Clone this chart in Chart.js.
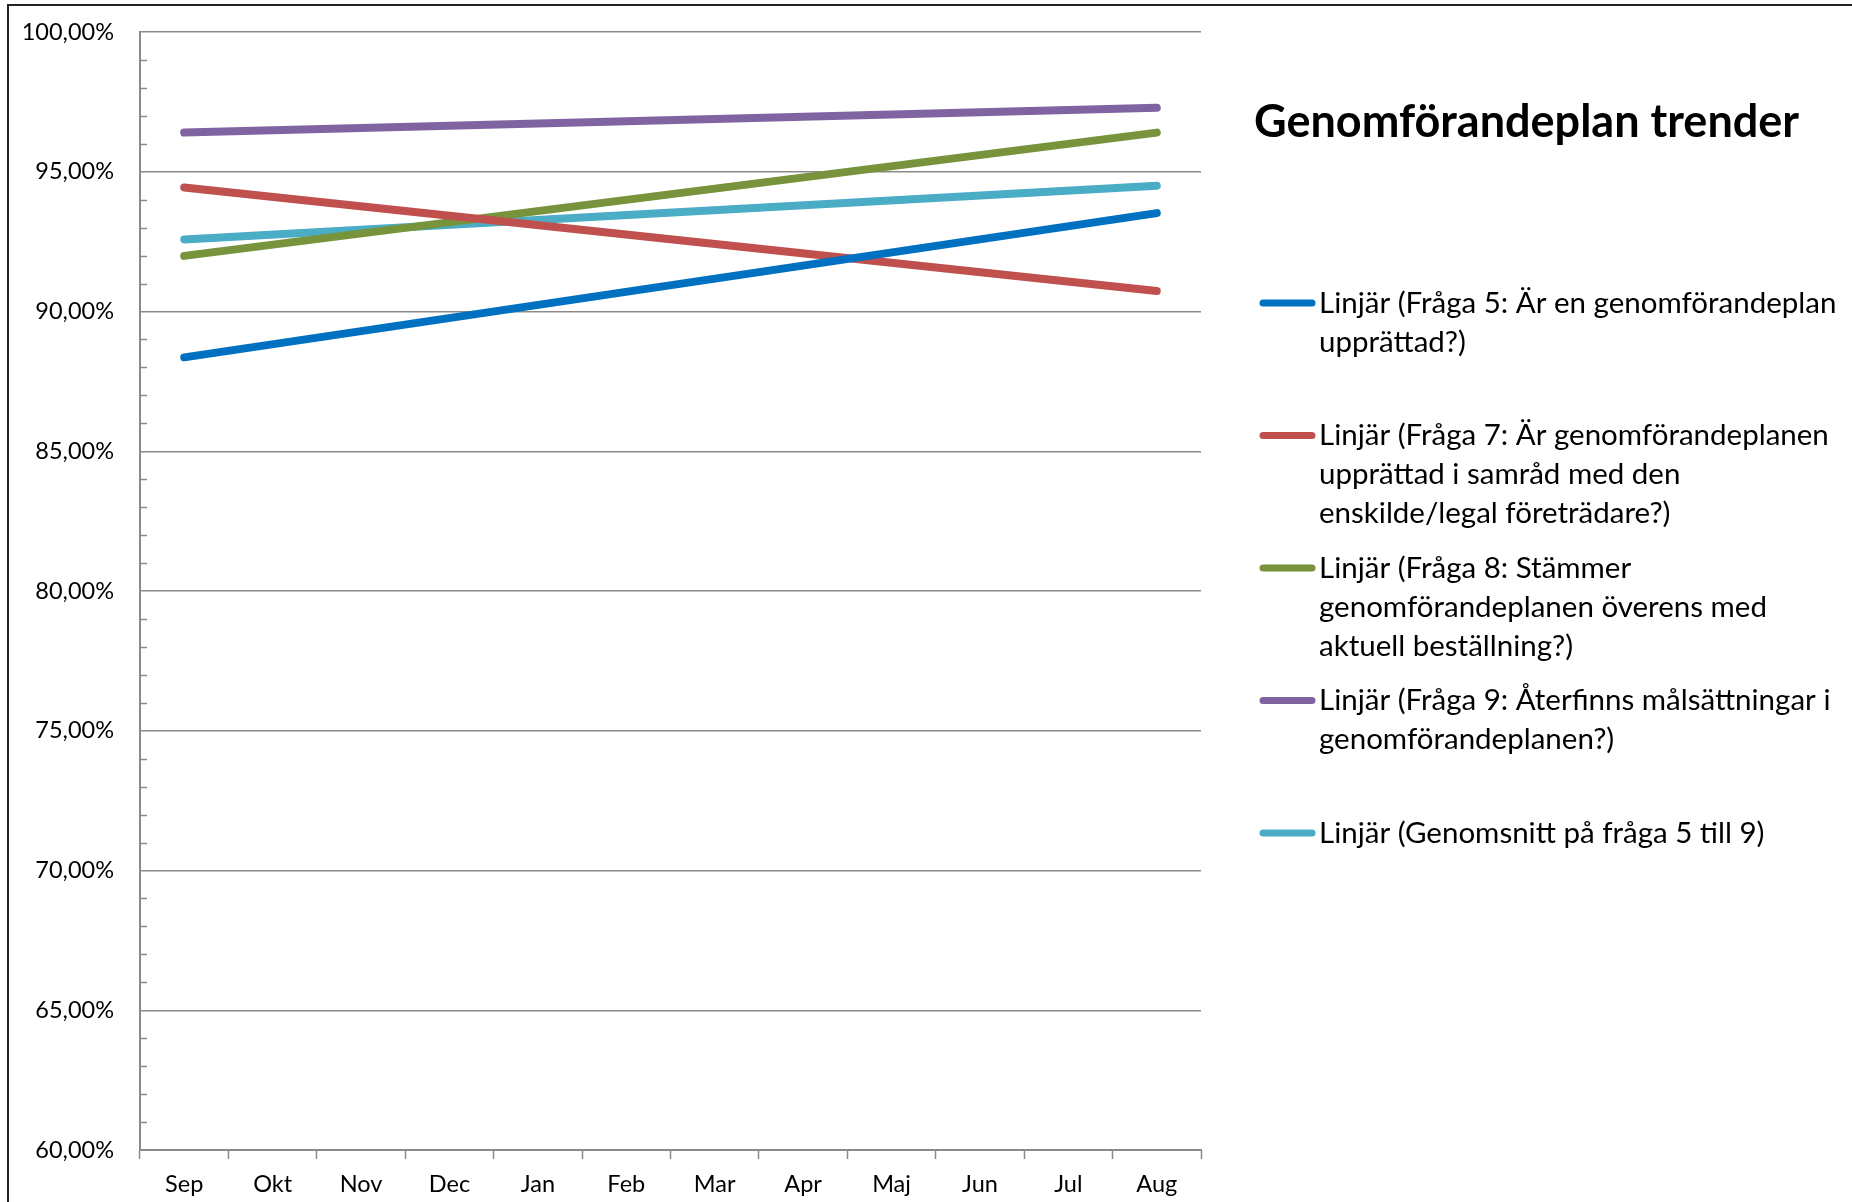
<!DOCTYPE html>
<html>
<head>
<meta charset="utf-8">
<script src="https://cdn.jsdelivr.net/npm/chart.js@4"></script>
<style>
  html, body { margin: 0; padding: 0; background: #fff; }
  #wrap { position: relative; width: 1852px; height: 1202px; overflow: hidden; }
  #frame { position: absolute; left: 7px; top: 4px; width: 1900px; height: 1300px;
           border: 2px solid #222; pointer-events: none; }
  canvas { position: absolute; left: 0; top: 0; }
</style>
</head>
<body>
<div id="wrap">
  <canvas id="trend-chart" width="1852" height="1202"></canvas>
  <div id="frame"></div>
</div>
<script>
// månader på x-axeln
const months = ['Sep', 'Okt', 'Nov', 'Dec', 'Jan', 'Feb', 'Mar', 'Apr', 'Maj', 'Jun', 'Jul', 'Aug'];

// trendlinjer: bara start (Sep) och slut (Aug) avlästa, mellan är tomt
const fraga5 = [88.36, null, null, null, null, null, null, null, null, null, null, 93.52];
const fraga7 = [94.44, null, null, null, null, null, null, null, null, null, null, 90.73];
const fraga8 = [91.99, null, null, null, null, null, null, null, null, null, null, 96.40];
const fraga9 = [96.40, null, null, null, null, null, null, null, null, null, null, 97.29];
const snitt  = [92.58, null, null, null, null, null, null, null, null, null, null, 94.50];

const yMin = 60;
const yMax = 100;
const yMajorStep = 5;

const titleText = 'Genomförandeplan trender';

const legendLines = [
    ['Linjär (Fråga 5: Är en genomförandeplan', 'upprättad?)'],
    ['Linjär (Fråga 7: Är genomförandeplanen', 'upprättad i samråd med den', 'enskilde/legal företrädare?)'],
    ['Linjär (Fråga 8: Stämmer', 'genomförandeplanen överens med', 'aktuell beställning?)'],
    ['Linjär (Fråga 9: Återfinns målsättningar i', 'genomförandeplanen?)'],
    ['Linjär (Genomsnitt på fråga 5 till 9)']
];

const seriesColors = ['#0070C0', '#C0504D', '#77933C', '#8064A2', '#4BACC6'];
const gridGray = '#8a8a8a';
const fontFamily = 'Lato, "Open Sans", sans-serif';

function makeDataset(values, idx) {
    return {
        label: legendLines[idx].join(' '),
        data: values,
        borderColor: seriesColors[idx],
        backgroundColor: seriesColors[idx],
        borderWidth: 8,
        borderCapStyle: 'round',
        pointRadius: 0,
        spanGaps: true,
        tension: 0
    };
}

// titel + legend till höger, och små stödstreck på y-axeln
const sidePanel = {
    id: 'sidePanel',
    afterDraw(chart) {
        const ctx = chart.ctx;
        const yScale = chart.scales.y;
        const area = chart.chartArea;

        // minor ticks innanför axeln
        ctx.save();
        ctx.strokeStyle = gridGray;
        ctx.lineWidth = 1.5;
        for (let v = yMin + 1; v < yMax; v++) {
            if (v % yMajorStep === 0) continue;
            const py = Math.round(yScale.getPixelForValue(v)) + 0.5;
            ctx.beginPath();
            ctx.moveTo(area.left, py);
            ctx.lineTo(area.left + 7, py);
            ctx.stroke();
        }
        ctx.restore();

        // titel
        ctx.save();
        ctx.fillStyle = '#000';
        ctx.font = 'bold 45px ' + fontFamily;
        ctx.textBaseline = 'middle';
        ctx.textAlign = 'left';
        ctx.fillText(titleText, 1254, 122);
        ctx.restore();

        // legend
        ctx.save();
        ctx.font = '29.5px ' + fontFamily;
        ctx.textBaseline = 'middle';
        ctx.fillStyle = '#000';
        const firstY = 303;
        const itemStep = 132.5;
        const lineStep = 39;
        chart.data.datasets.forEach(function(ds, i) {
            const y0 = firstY + i * itemStep;
            ctx.strokeStyle = ds.borderColor;
            ctx.lineWidth = 7;
            ctx.lineCap = 'round';
            ctx.beginPath();
            ctx.moveTo(1263, y0);
            ctx.lineTo(1312, y0);
            ctx.stroke();
            legendLines[i].forEach(function(txt, k) {
                ctx.fillText(txt, 1319, y0 + k * lineStep);
            });
        });
        ctx.restore();
    }
};

const ctx = document.getElementById('trend-chart').getContext('2d');
new Chart(ctx, {
    type: 'line',
    data: {
        labels: months,
        datasets: [
            makeDataset(fraga5, 0),
            makeDataset(fraga7, 1),
            makeDataset(fraga8, 2),
            makeDataset(fraga9, 3),
            makeDataset(snitt, 4)
        ]
    },
    options: {
        responsive: false,
        animation: false,
        layout: {
            autoPadding: false,
            padding: { top: 32, right: 651, bottom: 0, left: 0 }
        },
        plugins: {
            legend: { display: false },
            title: { display: false },
            tooltip: { enabled: false }
        },
        scales: {
            x: {
                offset: true,
                afterFit: function(scale) { scale.height = 52; },
                grid: {
                    offset: true,
                    drawOnChartArea: false,
                    drawTicks: true,
                    tickLength: 9,
                    tickColor: gridGray,
                    tickWidth: 1.5
                },
                border: { color: gridGray, width: 2 },
                ticks: {
                    color: '#000',
                    font: { family: fontFamily, size: 23.5 },
                    padding: 11,
                    maxRotation: 0,
                    autoSkip: false
                }
            },
            y: {
                min: yMin,
                max: yMax,
                afterFit: function(scale) {
                    scale.width = 140;
                    scale.paddingTop = 0;
                    scale.paddingBottom = 0;
                },
                grid: {
                    drawTicks: false,
                    lineWidth: 1.5,
                    color: function(c) {
                        return (c.tick && c.tick.value % yMajorStep === 0) ? gridGray : 'rgba(0,0,0,0)';
                    }
                },
                border: { color: gridGray, width: 2 },
                ticks: {
                    stepSize: 1,
                    autoSkip: false,
                    color: '#000',
                    padding: 26,
                    font: { family: fontFamily, size: 23.5 },
                    callback: function(value) {
                        if (value % yMajorStep !== 0) return '';
                        return value.toFixed(2).replace('.', ',') + '%';
                    }
                }
            }
        }
    },
    plugins: [sidePanel]
});
</script>
</body>
</html>
